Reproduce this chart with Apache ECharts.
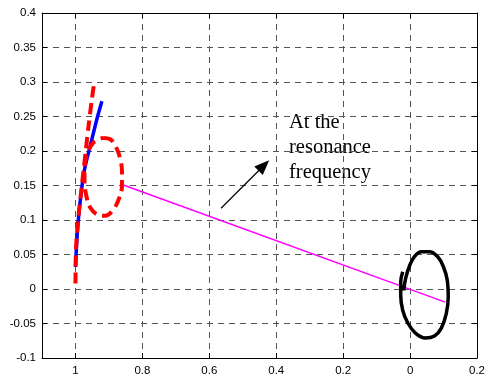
<!DOCTYPE html>
<html>
<head>
<meta charset="utf-8">
<script src="https://cdn.jsdelivr.net/npm/echarts@6/dist/echarts.min.js"></script>
<style>
  html, body { margin: 0; padding: 0; background: #fff; }
  #chart { width: 488px; height: 381px; }
</style>
</head>
<body>
<div id="chart"></div>
<script>
// x axis runs from 1.1 (left) down to -0.2 (right)
const xTicks = [1, 0.8, 0.6, 0.4, 0.2, 0, -0.2]
const xTickLabels = ['1', '0.8', '0.6', '0.4', '0.2', '0', '0.2']

// blue solid curve
const blueCurve = [
  [1.0, 0.032], [0.993, 0.091], [0.983, 0.139], [0.973, 0.173],
  [0.956, 0.207], [0.936, 0.246], [0.921, 0.272]
]
// red dashed curve
const redCurve = [
  [1.0, 0.008], [0.998, 0.062], [0.990, 0.110], [0.980, 0.154],
  [0.970, 0.197], [0.961, 0.236], [0.951, 0.275], [0.944, 0.299]
]
// red dashed ellipse (resonance)
const redLoop = [
  [0.917, 0.219], [0.896, 0.217], [0.879, 0.206], [0.867, 0.190],
  [0.861, 0.170], [0.861, 0.150], [0.870, 0.131], [0.887, 0.115],
  [0.911, 0.106], [0.935, 0.108], [0.956, 0.118], [0.967, 0.134],
  [0.973, 0.156], [0.973, 0.177], [0.964, 0.196], [0.947, 0.212],
  [0.917, 0.219]
]
// black loop
const blackLoop = [
  [0.022, 0.025], [0.028, 0.010], [0.028, -0.009], [0.022, -0.031],
  [0.007, -0.049], [-0.016, -0.064], [-0.046, -0.071], [-0.073, -0.068],
  [-0.093, -0.057], [-0.108, -0.036], [-0.114, -0.012], [-0.111, 0.013],
  [-0.099, 0.033], [-0.082, 0.047], [-0.058, 0.054], [-0.034, 0.054],
  [-0.013, 0.047], [0.002, 0.033], [0.013, 0.016], [0.019, -0.002]
]
// magenta connecting line
const magentaLine = [[0.859, 0.151], [-0.105, -0.019]]
// annotation arrow (tail, head)
const arrowLine = [[0.565, 0.117], [0.437, 0.179]]
const noteText = 'At the\nresonance\nfrequency'

const chart = echarts.init(document.getElementById('chart'))

const gridDash = { color: '#555', type: [6, 5], width: 1 }
const axisBlack = { color: '#000', width: 1 }
const labelFont = { color: '#000', fontSize: 11.5, fontFamily: 'Liberation Sans, Arial' }

function xLabel(v) {
  for (let i = 0; i < xTicks.length; i++) {
    if (Math.abs(xTicks[i] - v) < 1e-6) return xTickLabels[i]
  }
  return ''
}

const option = {
  backgroundColor: '#fff',
  animation: false,
  grid: { left: 42, right: 8, top: 13, bottom: 23 },
  xAxis: [
    {
      type: 'value', inverse: true, min: -0.2, max: 1.1, interval: 0.2,
      axisLine: { onZero: false, lineStyle: axisBlack },
      axisTick: { inside: true, length: 5, lineStyle: axisBlack },
      axisLabel: Object.assign({ formatter: xLabel, margin: 7 }, labelFont),
      splitLine: { show: true, lineStyle: gridDash }
    },
    {
      type: 'value', position: 'top', inverse: true, min: -0.2, max: 1.1, interval: 0.2,
      axisLine: { onZero: false, lineStyle: axisBlack },
      axisTick: { inside: true, length: 5, lineStyle: axisBlack },
      axisLabel: { show: false },
      splitLine: { show: false }
    }
  ],
  yAxis: [
    {
      type: 'value', min: -0.1, max: 0.4, interval: 0.05,
      axisLine: { onZero: false, lineStyle: axisBlack },
      axisTick: { inside: true, length: 5, lineStyle: axisBlack },
      axisLabel: Object.assign({ margin: 6 }, labelFont),
      splitLine: { show: true, lineStyle: gridDash }
    },
    {
      type: 'value', position: 'right', min: -0.1, max: 0.4, interval: 0.05,
      axisLine: { onZero: false, lineStyle: axisBlack },
      axisTick: { inside: true, length: 5, lineStyle: axisBlack },
      axisLabel: { show: false },
      splitLine: { show: false }
    }
  ],
  series: [
    {
      type: 'line', data: magentaLine, showSymbol: false,
      lineStyle: { color: '#ff00ff', width: 1.5 }
    },
    {
      type: 'line', data: blueCurve, showSymbol: false, smooth: 0.3,
      lineStyle: { color: '#0000ff', width: 3.5 }
    },
    {
      type: 'line', data: redCurve, showSymbol: false, smooth: 0.3,
      lineStyle: { color: '#ff0000', width: 4, type: [11, 6] }
    },
    {
      type: 'line', data: redLoop, showSymbol: false, smooth: 0.4,
      lineStyle: { color: '#ff0000', width: 4, type: [11, 6] }
    },
    {
      type: 'line', data: blackLoop, showSymbol: false, smooth: 0.4,
      lineStyle: { color: '#000', width: 3.5 }
    },
    {
      type: 'line', data: [], showSymbol: false,
      markLine: {
        silent: true,
        symbol: ['none', 'triangle'],
        symbolSize: [12, 15],
        label: { show: false },
        lineStyle: { color: '#000', width: 1.2, type: 'solid' },
        data: [[{ coord: arrowLine[0] }, { coord: arrowLine[1] }]]
      }
    }
  ],
  graphic: [
    {
      type: 'text', left: 289, top: 110,
      style: {
        text: noteText, fill: '#000', fontSize: 20.5, lineHeight: 25,
        fontFamily: 'Liberation Serif, Times New Roman, serif'
      }
    }
  ]
}

chart.setOption(option)
</script>
</body>
</html>
